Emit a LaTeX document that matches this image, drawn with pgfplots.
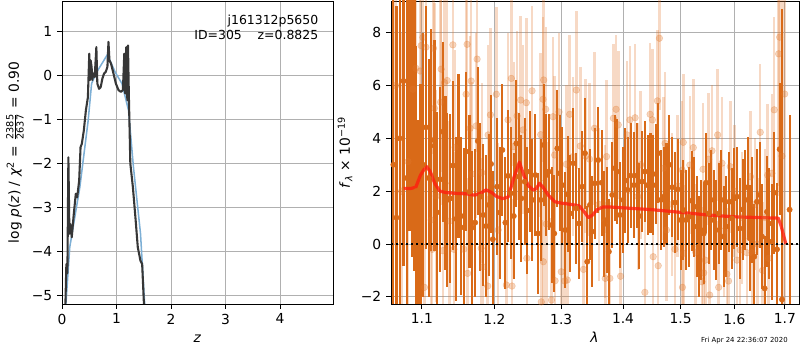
\documentclass[border=0pt]{standalone}
\usepackage{fontspec}
\setmainfont{DejaVu Sans}
\usepackage{pgfplots}
\pgfplotsset{compat=1.18}
\usepackage{pgfplotstable}
\definecolor{darkor}{RGB}{217,106,24}
\definecolor{lightor}{RGB}{225,120,45}
\definecolor{pzblue}{RGB}{125,175,213}
\definecolor{pzdark}{RGB}{55,55,55}
\definecolor{gridgray}{RGB}{176,176,176}
\definecolor{modred}{RGB}{255,30,15}
\def\px{0.72bp}

\pgfplotstableread{
z lp
0.055 -5.5
0.142 -3.91
0.327 -2.54
0.48 -1.02
0.543 -0.18
0.636 0.08
0.833 0.48
0.975 0.08
1.099 -0.18
1.22 -0.79
1.31 -2.08
1.44 -3.6
1.53 -5.5
}\bluetab

\pgfplotstableread{
z lp
0.055 -5.6
0.08 -4.29
0.099 -4.5
0.117 -1.86
0.136 -3.6
0.154 -3.38
0.179 -3.68
0.216 -3.15
0.253 -2.69
0.278 -2.77
0.315 -2.39
0.34 -1.63
0.364 -1.55
0.4 -1.25
0.438 -0.79
0.475 -0.49
0.5 0.5
0.512 -0.1
0.525 0.35
0.543 0.2
0.556 -0.1
0.574 0.05
0.6 -0.03
0.63 0.65
0.648 -0.18
0.68 -0.3
0.71 -0.26
0.74 -0.07
0.772 0.05
0.8 0.08
0.833 0.2
0.852 0.77
0.87 0.35
0.9 0.27
0.944 0.05
0.988 -0.18
1.037 -0.33
1.08 -0.37
1.117 -0.33
1.142 0.5
1.16 -0.41
1.179 0.65
1.198 -0.56
1.21 0.69
1.228 -0.56
1.253 -2.0
1.3 -2.54
1.346 -3.22
1.39 -3.91
1.438 -4.21
1.47 -4.29
1.5 -5.13
1.53 -5.6
}\darkpz

\pgfplotstableread{
lam y e
1.063 3.0 8.0
1.067 1.0 8.0
1.071 4.0 7.5
1.0761 6.17 7.0
1.080 2.5 7.0
1.0838 6.5 6.0
1.0873 5.5 6.0
1.0902 4.47 5.5
1.0925 2.0 5.5
1.0947 -0.3 5.0
1.0981 1.06 5.0
1.1015 3.0 5.0
1.1053 4.42 4.6
1.109 2.5 4.5
1.1124 3.94 4.2
1.1167 3.72 4.0
1.120 1.2 3.8
1.1244 2.45 3.5
1.128 4.25 3.4
1.1316 2.3 3.3
1.1339 1.67 3.3
1.1379 1.73 3.2
1.1416 2.97 3.2
1.1461 0.95 3.1
1.1493 3.34 3.1
1.153 1.06 3.0
1.1567 0.63 3.0
1.1599 3.5 3.0
1.1645 1.98 2.9
1.1683 0.62 2.9
1.1725 0.81 2.8
1.1763 3.9 2.8
1.1799 1.79 2.8
1.1841 1.1 2.7
1.188 0.68 2.7
1.1919 1.48 2.7
1.1951 3.03 2.6
1.1976 0.18 2.6
1.2037 2.17 2.6
1.2077 1.19 2.5
1.2114 3.56 2.5
1.2158 0.81 2.5
1.2197 2.58 2.5
1.2236 1.92 2.5
1.2281 1.06 2.4
1.2319 3.81 2.4
1.2359 2.55 2.4
1.2393 1.73 2.4
1.2443 2.36 2.4
1.2482 1.27 2.4
1.2518 2.74 2.3
1.2557 1.67 2.3
1.2603 2.61 2.3
1.2644 0.4 2.3
1.2684 1.67 2.3
1.273 3.75 2.3
1.277 2.61 2.3
1.2806 2.74 2.2
1.2852 0.72 2.2
1.2892 0.4 2.2
1.2939 3.62 2.2
1.2976 2.68 2.2
1.3017 2.23 2.2
1.3064 0.53 2.2
1.3106 1.88 2.2
1.3142 1.16 2.2
1.319 3.06 2.1
1.3237 1.35 2.1
1.328 0.78 2.1
1.3332 2.17 2.1
1.3375 3.44 2.1
1.3412 -0.67 2.1
1.3456 1.48 2.1
1.3492 0.47 2.1
1.3535 2.3 2.1
1.3589 3.18 2.0
1.3645 2.32 2.0
1.3688 0.76 2.0
1.3727 0.91 2.0
1.3765 -0.29 2.0
1.382 1.86 2.0
1.3864 2.87 2.0
1.3903 2.74 2.0
1.3948 1.1 2.0
1.4003 1.67 2.0
1.404 2.4 2.0
1.4077 2.05 2.0
1.4128 2.59 2.0
1.4184 2.23 2.0
1.423 2.59 2.0
1.4274 1.06 2.0
1.4326 2.36 1.9
1.4372 2.74 1.9
1.4419 2.23 1.9
1.4471 2.32 1.9
1.4516 2.23 1.9
1.4564 2.65 1.9
1.4604 3.44 1.9
1.4651 1.67 1.9
1.4704 1.79 1.9
1.4751 1.92 1.9
1.4798 3.0 1.9
1.4851 2.15 1.9
1.4899 1.57 1.9
1.4948 2.07 1.9
1.5007 0.91 1.9
1.5049 1.29 1.9
1.5097 0.91 1.9
1.5152 1.03 1.9
1.5201 1.64 1.9
1.5249 1.41 1.9
1.5298 0.66 1.9
1.533 -0.1 1.9
1.5372 0.53 1.9
1.5422 0.4 1.9
1.5465 2.32 1.9
1.5515 1.16 1.9
1.5558 1.67 1.9
1.5608 0.91 1.9
1.5651 0.53 1.9
1.5702 1.16 1.9
1.5751 1.67 1.9
1.5796 0.28 1.9
1.5846 0.66 1.9
1.5903 1.6 1.9
1.5955 0.97 1.9
1.5999 1.73 1.9
1.6051 1.79 1.9
1.6103 0.59 1.9
1.6161 1.31 1.9
1.6212 1.67 1.9
1.6258 2.15 1.9
1.6297 0.22 2.0
1.6342 1.29 2.0
1.6387 -0.48 2.0
1.644 1.6 2.0
1.6493 1.86 2.0
1.6539 0.28 2.0
1.6592 -1.68 2.0
1.6638 1.22 2.1
1.6684 0.78 2.1
1.6738 0.09 2.2
1.6784 1.94 2.3
1.6839 -0.2 2.5
1.6893 3.59 2.5
1.694 -2.1 11.0
1.7097 1.3 3.6
}\darktab

\pgfplotstableread{
lam y e
1.066 6.0 6.0
1.0735 2.0 6.0
1.0818 3.12 5.5
1.0882 5.86 5.0
1.0921 6.65 5.0
1.0977 6.55 4.5
1.099 7.51 4.5
1.1013 7.82 4.5
1.1034 -1.64 4.5
1.1053 7.45 4.5
1.1124 0.91 4.2
1.1137 -0.2 4.2
1.1154 7.41 4.0
1.1167 5.14 4.0
1.119 1.82 4.0
1.1248 5.37 3.9
1.1257 6.62 3.9
1.128 -0.25 3.9
1.1302 6.11 3.8
1.1339 6.19 3.8
1.137 0.87 3.8
1.1416 7.54 3.7
1.143 -0.2 3.7
1.1447 3.66 3.7
1.1567 -0.2 3.6
1.1599 5.67 3.6
1.1613 7.56 3.6
1.162 -1.11 3.6
1.1655 4.38 3.5
1.1669 6.17 3.5
1.168 2.65 3.5
1.1739 4.47 3.5
1.1753 7.0 3.5
1.181 -0.16 3.4
1.1819 2.7 3.4
1.1835 -0.86 3.4
1.1903 -1.59 3.4
1.1909 4.13 3.4
1.1942 4.89 3.3
1.2027 5.67 3.3
1.2053 0.53 3.3
1.2172 -1.55 3.3
1.2197 4.7 3.3
1.2245 6.27 3.3
1.2255 -1.59 3.3
1.2281 3.69 3.2
1.233 4.85 3.2
1.2384 5.45 3.2
1.2418 4.32 3.2
1.2467 5.35 3.2
1.2475 -0.54 3.2
1.2553 5.8 3.2
1.2684 4.14 3.1
1.2693 -2.19 3.1
1.2719 5.48 3.1
1.2725 -0.67 3.1
1.273 6.21 3.1
1.2761 5.1 3.1
1.277 0.76 3.1
1.2849 -2.12 3.1
1.2872 4.82 3.0
1.2898 3.37 3.0
1.2905 -1.39 3.0
1.2966 5.0 3.0
1.3001 -1.05 3.0
1.3054 -1.4 3.0
1.308 3.02 3.0
1.3095 -1.36 3.0
1.3133 4.91 3.0
1.3185 3.31 3.0
1.3237 5.83 3.0
1.3301 3.71 3.0
1.3352 -0.96 3.0
1.3386 3.33 2.9
1.3451 3.21 2.9
1.3529 4.38 2.9
1.36 1.5 2.9
1.3699 0.84 2.9
1.3705 -1.3 2.9
1.3727 3.31 2.9
1.3781 -1.3 2.9
1.3839 4.76 2.8
1.3884 5.1 2.8
1.3921 4.51 2.8
1.396 -1.22 2.8
1.407 4.13 2.8
1.4117 4.7 2.8
1.4205 4.78 2.8
1.425 1.8 2.8
1.43 3.0 2.8
1.4372 -1.83 2.8
1.4463 4.91 2.7
1.4503 4.7 2.7
1.4516 -0.48 2.7
1.459 5.42 2.7
1.4604 -0.82 2.7
1.4625 7.79 2.7
1.4695 2.87 2.7
1.4725 3.81 2.7
1.4751 0.53 2.7
1.485 1.5 2.7
1.49 -0.2 2.7
1.495 2.2 2.7
1.5031 2.8 2.6
1.5035 -1.64 2.6
1.5049 3.85 2.6
1.5055 -0.35 2.6
1.5168 2.99 2.6
1.5231 3.65 2.6
1.5275 -0.31 2.6
1.5391 -1.43 2.5
1.541 2.83 2.5
1.5422 -1.09 2.5
1.5452 -0.61 2.5
1.5515 3.21 2.5
1.5534 -1.93 2.5
1.5576 3.53 2.5
1.5683 4.13 2.5
1.5702 -1.64 2.5
1.5764 3.06 2.5
1.58 0.5 2.5
1.5858 -1.14 2.5
1.589 -1.4 2.5
1.5922 2.93 2.5
1.60 2.0 2.5
1.6051 -0.61 2.5
1.6114 -0.23 2.5
1.615 1.0 2.5
1.6244 -0.33 2.5
1.6313 2.55 2.5
1.6342 -0.33 2.5
1.64 1.5 2.5
1.645 0.0 2.5
1.6505 4.23 2.6
1.655 -1.0 2.6
1.66 1.0 2.6
1.6652 2.61 2.7
1.6672 -0.54 2.8
1.6738 2.68 3.0
1.6784 5.08 3.5
1.6873 7.2 5.0
1.6893 7.83 6.0
1.694 3.33 6.0
1.6995 5.68 8.0
}\lighttab

\pgfplotstableread{
lam f
1.076 2.1
1.085 2.1
1.092 2.15
1.098 2.6
1.1056 2.95
1.111 2.75
1.117 2.3
1.124 2.0
1.132 1.95
1.145 1.92
1.16 1.9
1.172 1.85
1.18 1.92
1.188 2.05
1.196 1.95
1.203 1.8
1.212 1.72
1.22 1.78
1.228 2.5
1.2365 3.1
1.243 2.6
1.25 2.2
1.257 2.05
1.262 2.1
1.2665 2.3
1.272 2.15
1.28 1.85
1.29 1.6
1.30 1.55
1.315 1.5
1.328 1.45
1.337 1.2
1.343 1.0
1.35 1.1
1.357 1.3
1.366 1.4
1.38 1.4
1.40 1.37
1.45 1.3
1.50 1.2
1.55 1.1
1.60 1.03
1.65 1.0
1.6865 0.98
1.692 0.7
1.702 0.0
}\modeltab

\pgfplotsset{
  mpl/.style={
    scale only axis,
    anchor=south west,
    axis line style={line width=0.6bp, black},
    tick align=outside, tick pos=left,
    major tick length=3.5bp,
    every tick/.style={black, line width=0.6bp},
    grid=major,
    grid style={gridgray, line width=0.6bp},
    ticklabel style={font=\fontsize{10}{12}\selectfont},
  }
}

\begin{document}
\begin{tikzpicture}
\useasboundingbox (0,0) rectangle (576bp,252bp);

% ---------- left panel ----------
\begin{axis}[mpl,
  at={(44.64bp,33.12bp)}, width=195.12bp, height=218.16bp,
  xmin=0, xmax=4.97, ymin=-5.2, ymax=1.7,
  xtick={0,1,2,3,4}, xticklabels={0,1,2,3,4},
  ytick={-5,-4,-3,-2,-1,0,1},
  yticklabels={−5,−4,−3,−2,−1,0,1},
]
\addplot[pzblue, line width=1.1bp, line join=round] table[x=z,y=lp] {\bluetab};
\addplot[pzdark, line width=1.5bp, line join=round] table[x=z,y=lp] {\darkpz};
\end{axis}

% ---------- right panel ----------
\begin{axis}[mpl,
  at={(281.52bp,33.12bp)}, width=293.76bp, height=218.16bp,
  xmode=log, xmin=1.06, xmax=1.729, ymin=-2.27, ymax=9.2,
  xtick={1.1,1.2,1.3,1.4,1.5,1.6,1.7},
  xticklabels={1.1,1.2,1.3,1.4,1.5,1.6,1.7},
  minor xtick={},
  ytick={-2,0,2,4,6,8},
  yticklabels={−2,0,2,4,6,8},
]
\addplot[only marks, color=lightor, mark=*, mark size=2.4bp,
  mark options={draw=none, fill=lightor, opacity=0.3},
  error bars/.cd, y dir=both, y explicit, error mark=none,
  error bar style={line width=1.8bp, lightor, opacity=0.28}]
  table[x=lam, y=y, y error=e] {\lighttab};
\addplot[only marks, color=darkor, mark=*, mark size=1.9bp,
  mark options={draw=none, fill=darkor},
  error bars/.cd, y dir=both, y explicit, error mark=none,
  error bar style={line width=1.55bp, darkor}]
  table[x=lam, y=y, y error=e] {\darktab};
\addplot[modred, opacity=0.8, line width=2.3bp, line join=round] table[x=lam,y=f] {\modeltab};
\addplot[black, line width=1.4bp, dash pattern=on 1.4bp off 2.2bp] coordinates {(1.06,0) (1.729,0)};
\end{axis}

% ---------- labels ----------
\node[anchor=base east, font=\fontsize{9}{10}\selectfont, inner sep=0pt] at (318.5*\px, 326*\px) {j161312p5650};
\node[anchor=base east, font=\fontsize{9}{10}\selectfont, inner sep=0pt] at (318.5*\px, 311*\px) {ID=305\hspace{1.27em}z=0.8825};
\node[anchor=base, font=\fontsize{10}{12}\selectfont, inner sep=0pt] at (197.5*\px, 8*\px) {\textit{z}};
\node[anchor=base, font=\fontsize{10}{12}\selectfont, inner sep=0pt] at (594.5*\px, 8*\px) {\textit{λ}};
\node[rotate=90, anchor=center, font=\fontsize{10}{12}\selectfont, inner sep=0pt] at (15*\px, 197.5*\px)
  {log \textit{p}(\textit{z}) / \textit{χ}\textsuperscript{2} = $\frac{\hbox{\fontsize{7}{7}\selectfont 2385}}{\hbox{\fontsize{7}{7}\selectfont 2637}}$ = 0.90};
\node[rotate=90, anchor=center, font=\fontsize{10}{12}\selectfont, inner sep=0pt] at (345*\px, 197.5*\px)
  {\textit{f}\textsubscript{\textit{λ}} × 10\textsuperscript{−19}};
\node[anchor=base east, font=\fontsize{5}{6}\selectfont, inner sep=0pt] at (788*\px, 8*\px) {Fri Apr 24 22:36:07 2020};
\end{tikzpicture}
\end{document}
